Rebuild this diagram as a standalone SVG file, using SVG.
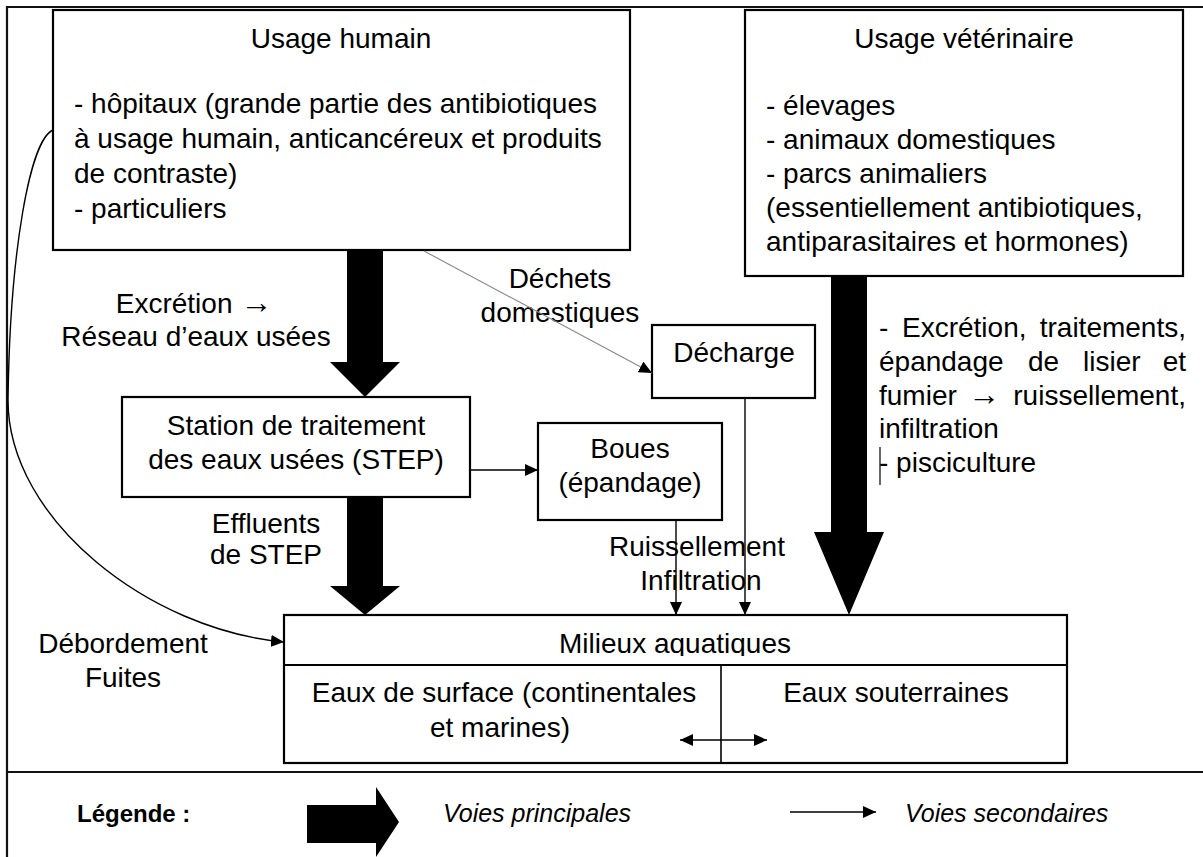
<svg xmlns="http://www.w3.org/2000/svg" width="1203" height="857" viewBox="0 0 1203 857">
<defs>
<marker id="ah" markerUnits="userSpaceOnUse" markerWidth="14" markerHeight="12" refX="13" refY="6" orient="auto">
<path d="M0,0 L13,6 L0,12 Z" fill="#000"/>
</marker>
<marker id="ahs" markerUnits="userSpaceOnUse" markerWidth="14" markerHeight="12" refX="13" refY="6" orient="auto-start-reverse">
<path d="M0,0 L13,6 L0,12 Z" fill="#000"/>
</marker>
<clipPath id="clipM"><rect x="284" y="615" width="783" height="41"/></clipPath>
</defs>
<style>
.box{fill:#fff;stroke:#000;stroke-width:2.2}
.t{font-family:"Liberation Sans",Arial,sans-serif;font-size:28px;fill:#000}
.c{text-anchor:middle}
.e{text-anchor:end}
.big{fill:#000}
.thin{fill:none;stroke:#000;stroke-width:1.4}
.frame{fill:none;stroke:#111;stroke-width:2.2}
</style>
<rect width="1203" height="857" fill="#fff"/>
<g id="frame">
<line class="frame" x1="6" y1="7" x2="1203" y2="7"/>
<line class="frame" x1="7" y1="6" x2="7" y2="857"/>
<line class="frame" x1="7" y1="772" x2="1203" y2="772"/>
</g>
<g id="usage-humain">
<rect class="box" x="53" y="10" width="577" height="240"/>
<text class="t c" x="341" y="48">Usage humain</text>
<text class="t" x="74" y="113">- hôpitaux (grande partie des antibiotiques</text>
<text class="t" x="74" y="148">à usage humain, anticancéreux et produits</text>
<text class="t" x="74" y="183">de contraste)</text>
<text class="t" x="74" y="218">- particuliers</text>
</g>
<g id="usage-veterinaire">
<rect class="box" x="745" y="10" width="438" height="266"/>
<text class="t c" x="964" y="48">Usage vétérinaire</text>
<text class="t" x="766" y="115">- élevages</text>
<text class="t" x="766" y="149">- animaux domestiques</text>
<text class="t" x="766" y="183">- parcs animaliers</text>
<text class="t" x="766" y="217">(essentiellement antibiotiques,</text>
<text class="t" x="766" y="251">antiparasitaires et hormones)</text>
</g>
<g id="label-excretion">
<text class="t c" x="194" y="313">Excrétion <tspan style="font-size:32px">→</tspan></text>
<text class="t c" x="196" y="346">Réseau d’eaux usées</text>
</g>
<g id="label-dechets">
<text class="t c" x="560" y="288">Déchets</text>
<text class="t c" x="560" y="322">domestiques</text>
</g>
<g id="decharge">
<rect class="box" x="652" y="325" width="163" height="73"/>
<text class="t c" x="734" y="362">Décharge</text>
</g>
<g id="step">
<rect class="box" x="122" y="397" width="348" height="100"/>
<text class="t c" x="296" y="435">Station de traitement</text>
<text class="t c" x="296" y="469">des eaux usées (STEP)</text>
</g>
<g id="boues">
<rect class="box" x="538" y="423" width="184" height="97"/>
<text class="t c" x="630" y="458">Boues</text>
<text class="t c" x="630" y="492">(épandage)</text>
</g>
<g id="label-effluents">
<text class="t c" x="266" y="533">Effluents</text>
<text class="t c" x="266" y="564">de STEP</text>
</g>
<g id="label-ruissellement">
<text class="t c" x="697" y="556">Ruissellement</text>
<text class="t c" x="701" y="590">Infiltration</text>
</g>
<g id="label-veterinaire-voies">
<text class="t" x="879" y="337">-</text>
<text class="t" x="902" y="337">Excrétion,</text>
<text class="t e" x="1186" y="337">traitements,</text>
<text class="t" x="879" y="371">épandage</text>
<text class="t" x="1028" y="371">de</text>
<text class="t" x="1083" y="371">lisier</text>
<text class="t e" x="1186" y="371">et</text>
<text class="t" x="879" y="405">fumier</text>
<text class="t" x="968" y="405" style="font-size:32px">→</text>
<text class="t e" x="1186" y="405">ruissellement,</text>
<text class="t" x="879" y="438">infiltration</text>
<text class="t" x="879" y="472">- pisciculture</text>
<line x1="880" y1="447" x2="880" y2="485" stroke="#000" stroke-width="1.2"/>
</g>
<g id="label-debordement">
<text class="t c" x="123" y="653">Débordement</text>
<text class="t c" x="123" y="687">Fuites</text>
</g>
<g id="milieux-aquatiques">
<rect class="box" x="284" y="615" width="783" height="148"/>
<line x1="284" y1="665" x2="1067" y2="665" stroke="#000" stroke-width="2"/>
<line x1="721" y1="665" x2="721" y2="763" stroke="#000" stroke-width="1.6"/>
<text class="t c" x="675" y="653" clip-path="url(#clipM)">Milieux aquatiques</text>
<text class="t c" x="504" y="702">Eaux de surface (continentales</text>
<text class="t c" x="500" y="737">et marines)</text>
<text class="t c" x="896" y="702">Eaux souterraines</text>
</g>
<g id="legende">
<text class="t" x="77" y="822" style="font-weight:bold;font-size:24px">Légende :</text>
<polygon class="big" points="307,805 376,805 376,787 399,822 376,857 376,843 307,843"/>
<text class="t" x="443" y="822" style="font-style:italic;font-size:25px">Voies principales</text>
<line class="thin" x1="790" y1="812" x2="876" y2="812" marker-end="url(#ah)"/>
<text class="t" x="905" y="822" style="font-style:italic;font-size:25px">Voies secondaires</text>
</g>
<g id="connectors">
<polygon class="big" points="347,251 383,251 383,362 400,362 365,397 330,362 347,362"/>
<polygon class="big" points="347,498 383,498 383,586 400,586 365,615 330,586 347,586"/>
<polygon class="big" points="831,277 867,277 867,532 884,532 849,615 814,532 831,532"/>
<line x1="424" y1="251" x2="652" y2="373" stroke="#888" stroke-width="1.1" marker-end="url(#ah)"/>
<line class="thin" x1="471" y1="470" x2="538" y2="470" marker-end="url(#ah)"/>
<line class="thin" x1="676" y1="521" x2="676" y2="615" marker-end="url(#ah)"/>
<line class="thin" x1="745" y1="399" x2="745" y2="615" marker-end="url(#ah)"/>
<path class="thin" d="M53,130 C30,140 10,250 8,400 C8,520 150,630 284,642" marker-end="url(#ah)"/>
<line class="thin" x1="680" y1="740" x2="767" y2="740" marker-start="url(#ahs)" marker-end="url(#ah)"/>
</g>
</svg>
